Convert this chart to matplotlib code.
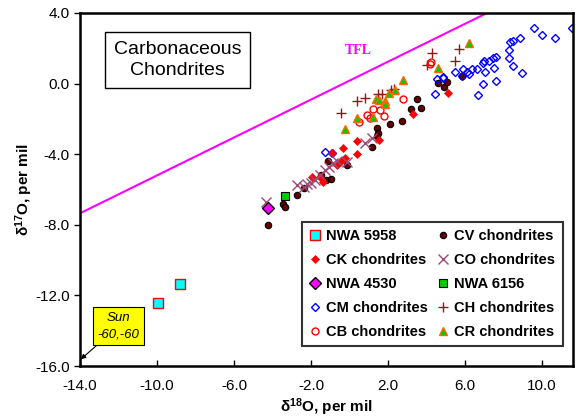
import numpy as np
import matplotlib
matplotlib.use('Agg')
import matplotlib.pyplot as plt

plt.rcParams['font.family'] = ['Liberation Sans', 'DejaVu Sans']
plt.rcParams['mathtext.fontset'] = 'custom'
plt.rcParams['mathtext.rm'] = 'Liberation Sans:bold'
plt.rcParams['mathtext.it'] = 'Liberation Sans:bold'
plt.rcParams['mathtext.bf'] = 'Liberation Sans:bold'
plt.rcParams['mathtext.default'] = 'regular'

# delta 18O / delta 17O values (per mil)
nwa5958_x = [-9.93, -8.81]
nwa5958_y = [-12.45, -11.35]

nwa4530_x = [-4.25]
nwa4530_y = [-7.07]

nwa6156_x = [-3.35]
nwa6156_y = [-6.35]

cv_x = [-4.25, -3.44, -3.34, -2.74, -2.38, -1.48, -1.22, -0.98, -1.13, -0.15, 1.15, 1.44,
        1.50, 1.44, 2.10, 2.71, 3.18, 3.49, 3.73, 4.61, 4.92, 5.08, 5.83]
cv_y = [-8.03, -6.84, -6.99, -6.31, -5.92, -5.20, -5.46, -5.42, -4.39, -4.61, -3.57, -2.53,
        -2.78, -2.97, -2.31, -2.10, -1.44, -0.87, -1.40, 0.02, -0.18, 0.11, 0.45]

ck_x = [-1.93, -1.36, -1.53, -0.93, -0.67, -0.46, -0.23, -0.35, 0.37, 0.37, 1.55, 3.30, 5.13]
ck_y = [-5.27, -5.56, -5.31, -3.95, -4.61, -4.39, -4.23, -3.67, -3.25, -3.99, -3.20, -1.73, -0.55]

co_x = [-4.35, -2.74, -2.36, -2.22, -2.00, -1.79, -1.55, -1.27, -1.05, -0.84, -0.63, -0.15, 0.81, 1.15]
co_y = [-6.69, -5.75, -5.88, -5.69, -5.61, -5.46, -5.20, -4.90, -4.75, -4.52, -4.37, -4.42, -3.38, -3.10]

cm_x = [-1.27, -0.93, 4.44, 4.53, 4.84, 4.87, 5.48, 5.83, 5.88, 6.09, 6.22, 6.35, 6.60, 6.66,
        6.95, 6.95, 7.00, 7.04, 7.26, 7.47, 7.52, 7.61, 7.61, 8.29, 8.30, 8.34, 8.48, 8.48,
        8.86, 8.95, 9.60, 9.98, 10.64, 11.54]
cm_y = [-3.86, -3.95, -0.61, 0.24, 0.36, 0.33, 0.64, 0.43, 0.83, 0.67, 0.53, 0.83, 0.83, -0.65,
        1.15, -0.02, 1.28, 0.67, 1.28, 1.43, 0.87, 1.52, 0.15, 1.90, 1.47, 2.37, 2.43, 1.00,
        2.60, 0.58, 3.13, 2.75, 2.60, 3.13]

ch_x = [-0.45, 0.37, 0.81, 1.50, 1.67, 2.16, 2.30, 4.00, 4.28, 5.45, 5.68]
ch_y = [-1.65, -0.99, -0.83, -0.61, -0.59, -0.36, -0.32, 1.07, 1.76, 1.30, 1.96]

cb_x = [0.49, 0.92, 1.05, 1.20, 1.58, 1.79, 2.76, 4.15, 4.25]
cb_y = [-2.19, -1.78, -1.95, -1.44, -1.50, -1.84, -0.89, 1.12, 1.22]

cr_x = [-0.23, 0.37, 1.24, 1.36, 1.52, 1.84, 1.84, 2.02, 2.36, 2.76, 4.61, 6.22]
cr_y = [-2.57, -1.97, -1.88, -0.89, -0.93, -0.97, -1.16, -0.55, -0.36, 0.20, 0.90, 2.28]

# terrestrial fractionation line as drawn
tfl_slope = 0.537
tfl_intercept = 0.17

fig = plt.figure(figsize=(5.84, 4.20), dpi=100)
ax = fig.add_axes([80 / 584, 1 - 366 / 420, 493 / 584, 353 / 420])

xlim = (-14, 11.6)
ylim = (-16, 4)
tx = np.array(xlim)
ax.plot(tx, tfl_slope * tx + tfl_intercept, color='#ff00ff', lw=1.5, zorder=2)
ax.text(0.45, 1.9, 'TFL', color='#ff00ff', fontsize=10, fontweight='bold',
        family='Liberation Serif', ha='center', va='center')

h = {}
h['cv'], = ax.plot(cv_x, cv_y, 'o', ms=4.6, mfc='#660000', mec='black', mew=0.8, ls='none', label='CV chondrites')
h['cm'], = ax.plot(cm_x, cm_y, 'D', ms=3.6, mfc='none', mec='#0000ff', mew=1.0, ls='none', label='CM chondrites')
h['ck'], = ax.plot(ck_x, ck_y, 'D', ms=3.8, mfc='#ff0000', mec='#ff0000', mew=0.5, ls='none', label='CK chondrites')
h['co'], = ax.plot(co_x, co_y, 'x', ms=6.5, mec='#a04878', mew=1.0, ls='none', label='CO chondrites')
h['ch'], = ax.plot(ch_x, ch_y, '+', ms=7.5, mec='#8b1a1a', mew=1.0, ls='none', label='CH chondrites')
h['cb'], = ax.plot(cb_x, cb_y, 'o', ms=5, mfc='none', mec='#ff0000', mew=1.0, ls='none', label='CB chondrites')
h['cr'], = ax.plot(cr_x, cr_y, '^', ms=6, mfc='#00cc00', mec='#ff6600', mew=1.0, ls='none', label='CR chondrites')
h['n5958'], = ax.plot(nwa5958_x, nwa5958_y, 's', ms=6.5, mfc='#00ffff', mec='#ff0000', mew=1.0, ls='none', label='NWA 5958')
h['n4530'], = ax.plot(nwa4530_x, nwa4530_y, 'D', ms=6, mfc='#ff00ff', mec='black', mew=1.0, ls='none', label='NWA 4530')
h['n6156'], = ax.plot(nwa6156_x, nwa6156_y, 's', ms=5.5, mfc='#00cc00', mec='black', mew=0.8, ls='none', label='NWA 6156')

order = ['n5958', 'ck', 'n4530', 'cm', 'cb', 'cv', 'co', 'n6156', 'ch', 'cr']
leg = ax.legend([h[k] for k in order], [h[k].get_label() for k in order],
                ncol=2, loc='lower right', bbox_to_anchor=(0.994, 0.036),
                prop={'weight': 'bold', 'size': 10.5}, numpoints=1,
                handlelength=0.8, handletextpad=0.4, columnspacing=0.6,
                labelspacing=0.68, borderpad=0.5, fancybox=False, framealpha=1)
leg.get_frame().set_edgecolor('#333333')
leg.get_frame().set_linewidth(1.5)

ax.text(0.198, 0.867, 'Carbonaceous\nChondrites', transform=ax.transAxes,
        fontsize=14, ha='center', va='center', multialignment='center', linespacing=1.35,
        bbox=dict(boxstyle='square,pad=0.45', fc='white', ec='black', lw=1.0))

ax.annotate('Sun\n-60,-60', xy=(-13.96, -15.62), xytext=(-12.0, -13.75),
            fontsize=9.5, style='italic', ha='center', va='center', linespacing=1.5,
            bbox=dict(boxstyle='square,pad=0.35', fc='#ffff00', ec='black', lw=0.8),
            arrowprops=dict(arrowstyle='-|>', color='black', lw=0.8, mutation_scale=7,
                            shrinkA=0, shrinkB=0))

ax.set_xlim(*xlim)
ax.set_ylim(*ylim)
ax.set_xticks(np.arange(-14, 11, 4))
ax.set_yticks(np.arange(-16, 5, 4))
ax.xaxis.set_major_formatter(plt.FormatStrFormatter('%.1f'))
ax.yaxis.set_major_formatter(plt.FormatStrFormatter('%.1f'))
ax.tick_params(axis='x', direction='in', length=4, width=1, labelsize=11, pad=9)
ax.tick_params(axis='y', direction='out', length=4, width=1, labelsize=11)
for s in ax.spines.values():
    s.set_linewidth(1.8)

ax.set_xlabel(r'$\delta^{18}$O, per mil', fontsize=11, fontweight='bold', labelpad=3)
ax.set_ylabel(r'$\delta^{17}$O, per mil', fontsize=11, fontweight='bold', labelpad=0)

fig.savefig('out.png', dpi=100)
